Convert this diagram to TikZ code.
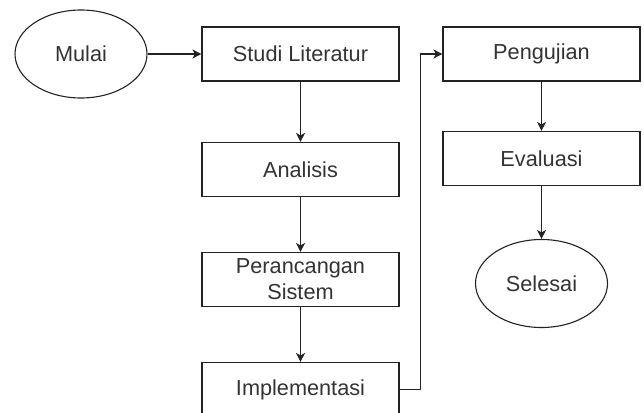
\documentclass[tikz,border=0pt]{standalone}
\usepackage{fontspec}
\setmainfont{Liberation Sans}
\usetikzlibrary{shapes.geometric,arrows.meta}
\definecolor{AlurGaris}{RGB}{35,35,35}
\definecolor{AlurTeks}{RGB}{51,51,51}

\begin{document}
\begin{tikzpicture}[x=1pt,y=-1pt,every node/.style={font=\fontsize{21.7}{26}\selectfont,text=AlurTeks,draw=AlurGaris,line width=1.1pt,align=center,inner sep=0pt},
  kotak/.style={rectangle,minimum width=197pt,minimum height=54pt},
  oval/.style={ellipse,minimum width=132pt,minimum height=88pt},
  panah/.style={AlurGaris,line width=1.1pt,-{Stealth[length=9pt,width=9pt,inset=2.5pt]}}]
\useasboundingbox (0,0) rectangle (644,412);
\node[oval](mulai)at(81,54){Mulai};
\node[kotak](studi)at(300.5,54){Studi Literatur};
\node[kotak](analisis)at(300.5,169.5){Analisis};
\node[kotak](rancang)at(300.5,279.5){Perancangan\\Sistem};
\node[kotak](implem)at(300.5,389.5){Implementasi};
\node[kotak](uji)at(541.5,54){Pengujian};
\node[kotak](evaluasi)at(541.5,158.5){Evaluasi};
\node[oval](selesai)at(541.5,283.5){Selesai};
\draw[panah](mulai)--(studi);
\draw[panah](studi)--(analisis);
\draw[panah](analisis)--(rancang);
\draw[panah](rancang)--(implem);
\draw[panah](implem.east)--++(21,0)|-(uji.west);
\draw[panah](uji)--(evaluasi);
\draw[panah](evaluasi)--(selesai);
\end{tikzpicture}
\end{document}
